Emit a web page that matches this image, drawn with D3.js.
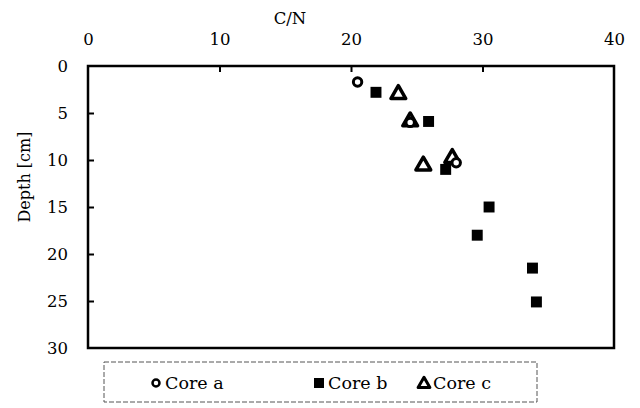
<!DOCTYPE html>
<head>
<meta charset="utf-8">
<style>
body { margin: 0; background: #fff; }
svg { display: block; }
text { font-family: "DejaVu Serif", "Liberation Serif", serif; fill: #000; }
.tick line { stroke: #000; stroke-width: 2px; }
.tick text { font-size: 16.5px; }
.domain { display: none; }
</style>
</head>
<body>
<script src="https://cdn.jsdelivr.net/npm/d3@7"></script>
<script>
  // C/N vs depth, three cores
  var coreA_cn    = [20.5, 24.5, 28.0];
  var coreA_depth = [1.7, 6.0, 10.3];
  var coreB_cn    = [21.9, 25.9, 27.2, 30.5, 29.6, 33.8, 34.1];
  var coreB_depth = [2.8, 5.9, 11.0, 15.0, 18.0, 21.5, 25.1];
  var coreC_cn    = [23.6, 24.5, 25.5, 27.7];
  var coreC_depth = [2.9, 5.8, 10.5, 9.7];
  var xTicks = [0, 10, 20, 30, 40];
  var yTicks = [0, 5, 10, 15, 20, 25, 30];

  var W = 640, H = 408;
  var pLeft = 88, pRight = 614, pTop = 66, pBottom = 348;

  var svg = d3.select("body").append("svg")
      .attr("width", W)
      .attr("height", H);

  var x = d3.scaleLinear().domain([0, 40]).range([pLeft, pRight]);
  var y = d3.scaleLinear().domain([0, 30]).range([pTop, pBottom]);

  // top axis: labels above, ticks inward
  var xAxis = d3.axisTop(x).tickValues(xTicks).tickSizeInner(-6).tickSizeOuter(0).tickPadding(21);
  svg.append("g")
      .attr("transform", "translate(0," + pTop + ")")
      .call(xAxis)
      .selectAll(".tick line")
      .filter(function (d) { return d === 0 || d === 40; })
      .remove();

  var yAxis = d3.axisLeft(y).tickValues(yTicks).tickSizeInner(-6).tickSizeOuter(0).tickPadding(20);
  svg.append("g")
      .attr("transform", "translate(" + pLeft + ",0)")
      .call(yAxis)
      .selectAll(".tick line")
      .filter(function (d) { return d === 0 || d === 30; })
      .remove();

  // frame
  svg.append("rect")
      .attr("x", pLeft).attr("y", pTop)
      .attr("width", pRight - pLeft).attr("height", pBottom - pTop)
      .style("fill", "none").style("stroke", "#000").style("stroke-width", 2.5);

  svg.append("text")
      .attr("x", 290).attr("y", 24)
      .attr("text-anchor", "middle")
      .style("font-size", "16.5px")
      .text("C/N");

  svg.append("text")
      .attr("transform", "translate(30,177) rotate(-90)")
      .attr("text-anchor", "middle")
      .style("font-size", "16px")
      .text("Depth [cm]");

  var sq = d3.symbol().type(d3.symbolSquare).size(120);
  var tri = d3.symbol().type(d3.symbolTriangle).size(95);

  // core b squares
  svg.selectAll(".b").data(d3.range(coreB_cn.length)).enter()
    .append("path")
      .attr("transform", function (i) { return "translate(" + x(coreB_cn[i]) + "," + y(coreB_depth[i]) + ")"; })
      .attr("d", sq)
      .style("fill", "#000");

  // core c triangles
  svg.selectAll(".c").data(d3.range(coreC_cn.length)).enter()
    .append("path")
      .attr("transform", function (i) { return "translate(" + x(coreC_cn[i]) + "," + (y(coreC_depth[i]) + 1) + ")"; })
      .attr("d", tri)
      .style("fill", "#fff").style("stroke", "#000").style("stroke-width", 3.5)
      .style("stroke-linejoin", "round");

  // core a circles
  svg.selectAll(".a").data(d3.range(coreA_cn.length)).enter()
    .append("circle")
      .attr("cx", function (i) { return x(coreA_cn[i]); })
      .attr("cy", function (i) { return y(coreA_depth[i]); })
      .attr("r", 4.2)
      .style("fill", "#fff").style("stroke", "#000").style("stroke-width", 3);

  // legend
  var lg = svg.append("g");
  lg.append("rect")
      .attr("x", 104).attr("y", 362).attr("width", 433).attr("height", 40)
      .style("fill", "none").style("stroke", "#555").style("stroke-width", 1)
      .style("stroke-dasharray", "5,2");

  var legendItems = [
    { name: "Core a", mx: 156, kind: "a" },
    { name: "Core b", mx: 319, kind: "b" },
    { name: "Core c", mx: 424, kind: "c" }
  ];
  var ly = 383;
  legendItems.forEach(function (it) {
    if (it.kind === "a") {
      lg.append("circle").attr("cx", it.mx).attr("cy", ly).attr("r", 3.5)
        .style("fill", "#fff").style("stroke", "#000").style("stroke-width", 2.5);
    } else if (it.kind === "b") {
      lg.append("path").attr("transform", "translate(" + it.mx + "," + ly + ")")
        .attr("d", d3.symbol().type(d3.symbolSquare).size(100)).style("fill", "#000");
    } else {
      lg.append("path").attr("transform", "translate(" + it.mx + "," + (ly + 1) + ")")
        .attr("d", d3.symbol().type(d3.symbolTriangle).size(60))
        .style("fill", "#fff").style("stroke", "#000").style("stroke-width", 3)
        .style("stroke-linejoin", "round");
    }
    lg.append("text")
      .attr("x", it.mx + 9).attr("y", ly + 6)
      .style("font-size", "17.5px")
      .text(it.name);
  });
</script>
</body>
